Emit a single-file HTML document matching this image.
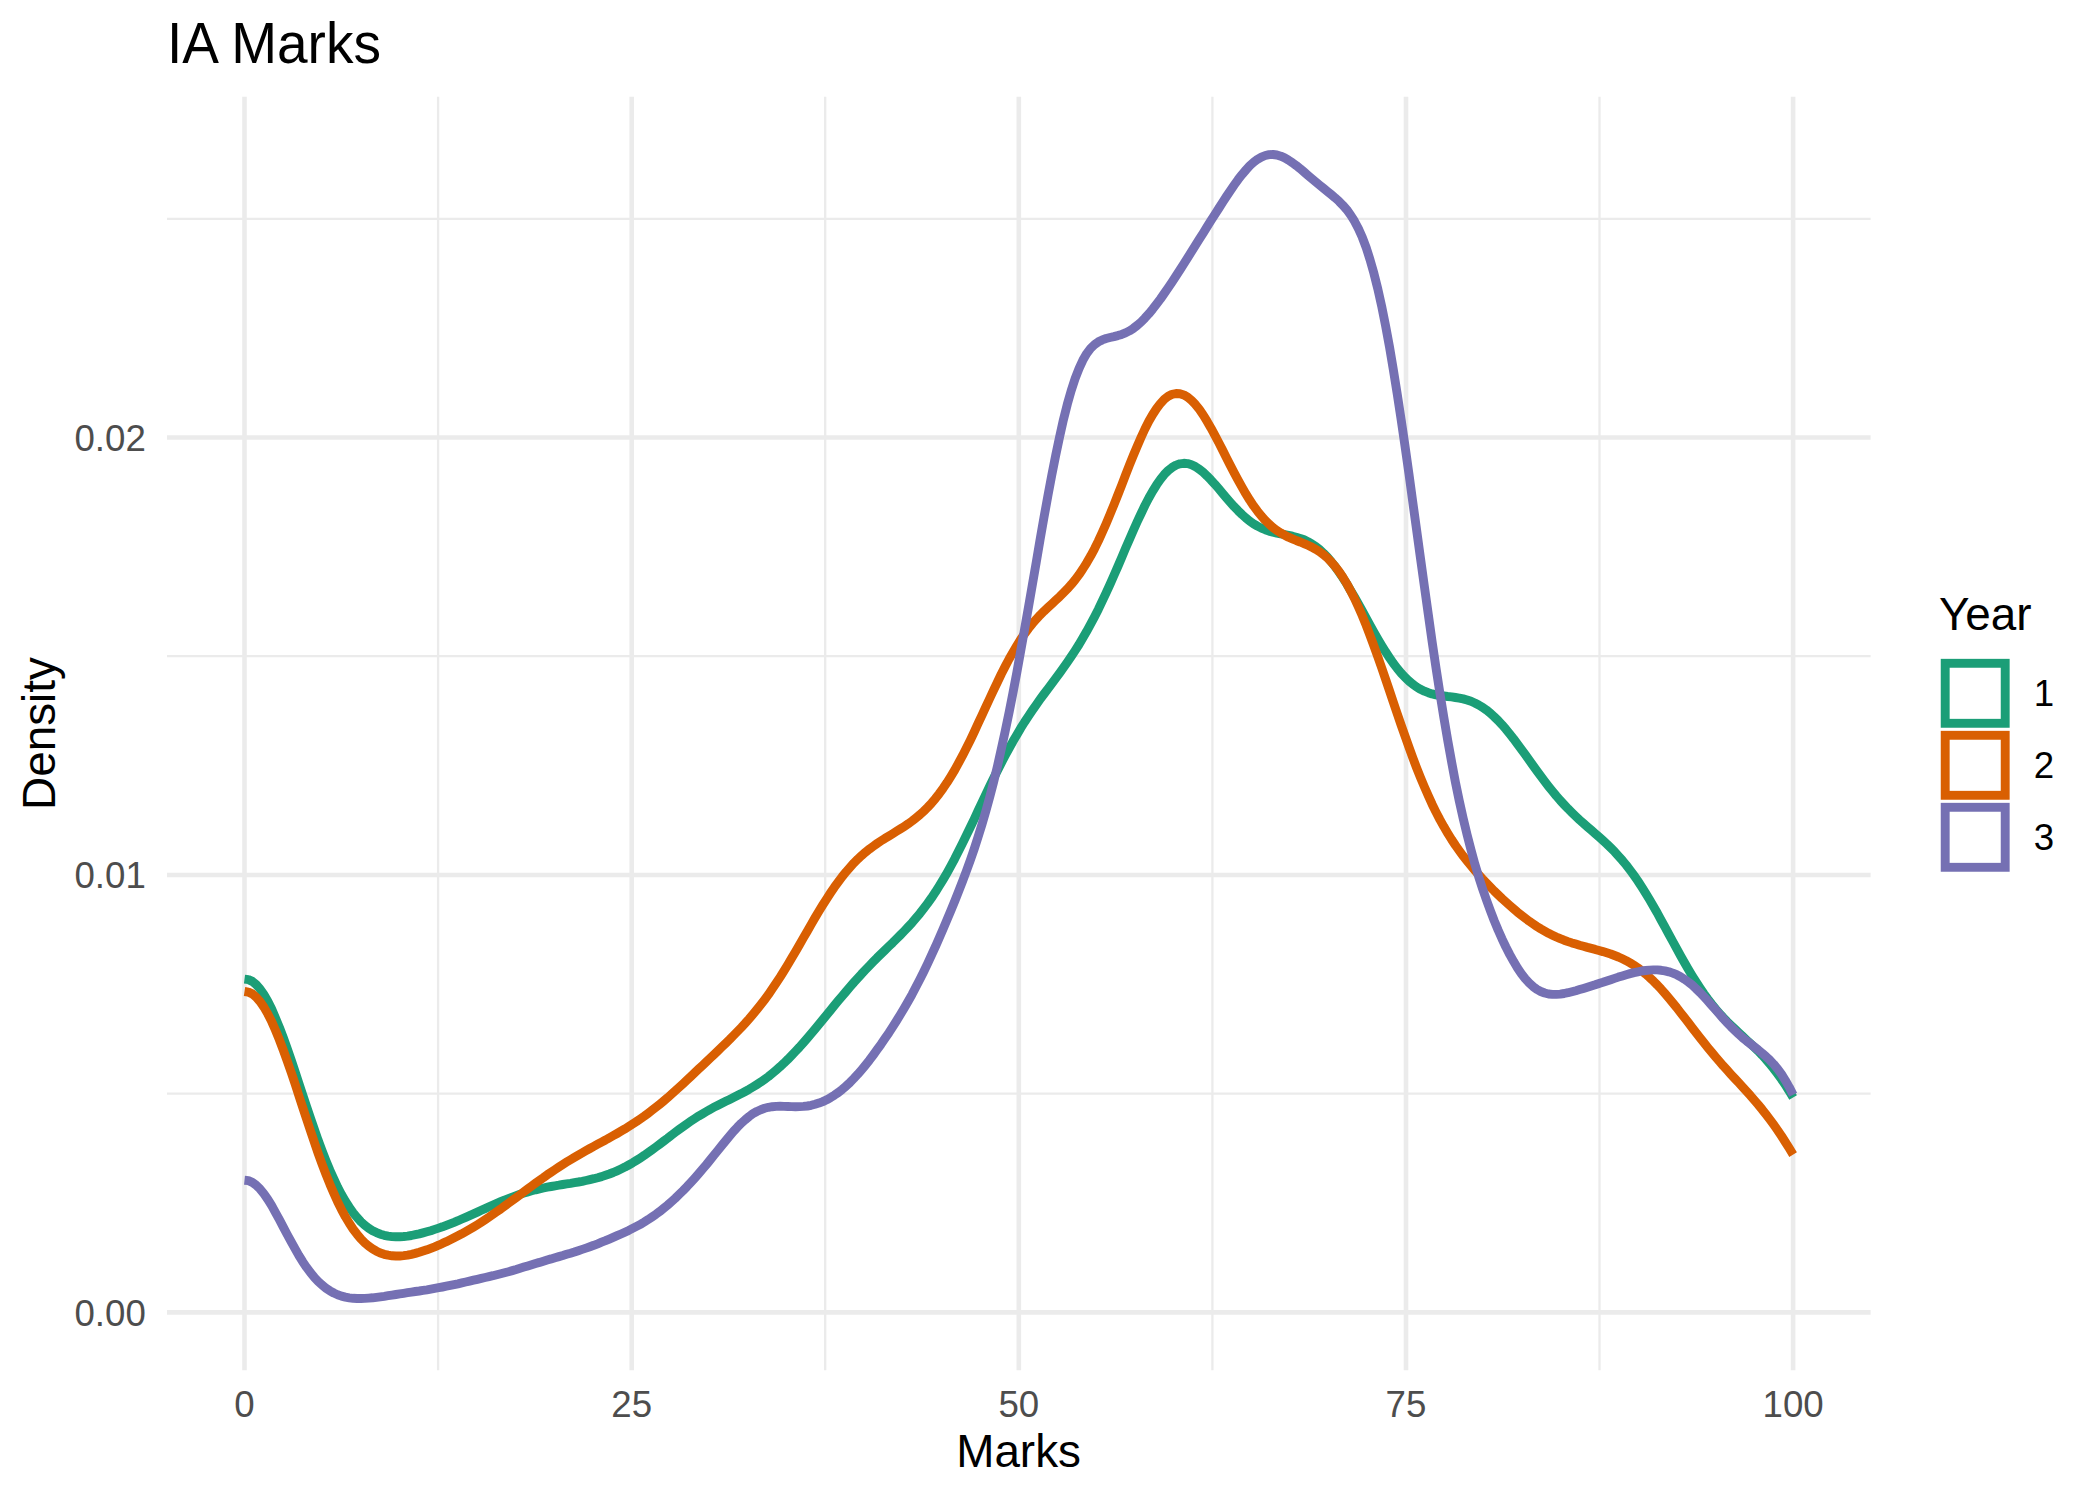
<!DOCTYPE html><html><head><meta charset="utf-8"><title>IA Marks</title>
<style>html,body{margin:0;padding:0;background:#fff}svg{display:block}text{font-family:"Liberation Sans",Arial,sans-serif}</style></head><body>
<svg xmlns="http://www.w3.org/2000/svg" width="2100" height="1499" viewBox="0 0 2100 1499">
<rect width="2100" height="1499" fill="#fff"/>
<g stroke="#EBEBEB" stroke-width="2.3" fill="none">
<line x1="438.1" x2="438.1" y1="96.7" y2="1370.2"/>
<line x1="825.2" x2="825.2" y1="96.7" y2="1370.2"/>
<line x1="1212.4" x2="1212.4" y1="96.7" y2="1370.2"/>
<line x1="1599.5" x2="1599.5" y1="96.7" y2="1370.2"/>
<line x1="167.0" x2="1870.6" y1="1093.7" y2="1093.7"/>
<line x1="167.0" x2="1870.6" y1="656.2" y2="656.2"/>
<line x1="167.0" x2="1870.6" y1="218.8" y2="218.8"/>
</g>
<g stroke="#EBEBEB" stroke-width="4.6" fill="none">
<line x1="244.5" x2="244.5" y1="96.7" y2="1370.2"/>
<line x1="631.7" x2="631.7" y1="96.7" y2="1370.2"/>
<line x1="1018.8" x2="1018.8" y1="96.7" y2="1370.2"/>
<line x1="1406.0" x2="1406.0" y1="96.7" y2="1370.2"/>
<line x1="1793.1" x2="1793.1" y1="96.7" y2="1370.2"/>
<line x1="167.0" x2="1870.6" y1="1312.4" y2="1312.4"/>
<line x1="167.0" x2="1870.6" y1="875.0" y2="875.0"/>
<line x1="167.0" x2="1870.6" y1="437.5" y2="437.5"/>
</g>
<g fill="none" stroke-width="8.9" stroke-linejoin="round" stroke-linecap="butt">
<path stroke="#1B9E77" d="M244.5 979.1L248.4 979.6L252.3 981.4L256.1 984.5L260.0 988.9L263.9 994.6L267.8 1001.3L271.7 1009.1L275.5 1017.9L279.4 1027.4L283.3 1037.7L287.2 1048.5L291.1 1059.7L295.0 1071.3L298.8 1083.1L302.7 1094.9L306.6 1106.6L310.5 1118.2L314.4 1129.5L318.2 1140.4L322.1 1150.8L326.0 1160.8L329.9 1170.2L333.8 1178.9L337.6 1187.1L341.5 1194.5L345.4 1201.3L349.3 1207.3L353.2 1212.8L357.1 1217.5L360.9 1221.7L364.8 1225.2L368.7 1228.2L372.6 1230.7L376.5 1232.6L380.3 1234.2L384.2 1235.3L388.1 1236.1L392.0 1236.6L395.9 1236.8L399.7 1236.8L403.6 1236.5L407.5 1236.1L411.4 1235.5L415.3 1234.7L419.2 1233.9L423.0 1232.9L426.9 1231.8L430.8 1230.7L434.7 1229.4L438.6 1228.1L442.4 1226.8L446.3 1225.3L450.2 1223.8L454.1 1222.3L458.0 1220.7L461.8 1219.0L465.7 1217.3L469.6 1215.6L473.5 1213.9L477.4 1212.1L481.3 1210.3L485.1 1208.6L489.0 1206.8L492.9 1205.1L496.8 1203.4L500.7 1201.7L504.5 1200.1L508.4 1198.6L512.3 1197.1L516.2 1195.7L520.1 1194.3L523.9 1193.1L527.8 1191.9L531.7 1190.8L535.6 1189.8L539.5 1188.9L543.4 1188.0L547.2 1187.2L551.1 1186.5L555.0 1185.8L558.9 1185.2L562.8 1184.5L566.6 1183.9L570.5 1183.3L574.4 1182.6L578.3 1182.0L582.2 1181.3L586.0 1180.5L589.9 1179.6L593.8 1178.7L597.7 1177.7L601.6 1176.6L605.5 1175.3L609.3 1174.0L613.2 1172.5L617.1 1170.8L621.0 1169.0L624.9 1167.1L628.7 1165.0L632.6 1162.8L636.5 1160.4L640.4 1157.9L644.3 1155.3L648.1 1152.6L652.0 1149.8L655.9 1147.0L659.8 1144.1L663.7 1141.1L667.6 1138.2L671.4 1135.2L675.3 1132.3L679.2 1129.4L683.1 1126.6L687.0 1123.8L690.8 1121.2L694.7 1118.6L698.6 1116.1L702.5 1113.8L706.4 1111.5L710.2 1109.3L714.1 1107.2L718.0 1105.2L721.9 1103.2L725.8 1101.3L729.7 1099.4L733.5 1097.5L737.4 1095.5L741.3 1093.6L745.2 1091.5L749.1 1089.3L752.9 1087.0L756.8 1084.6L760.7 1082.1L764.6 1079.3L768.5 1076.5L772.3 1073.4L776.2 1070.1L780.1 1066.7L784.0 1063.1L787.9 1059.3L791.7 1055.4L795.6 1051.3L799.5 1047.1L803.4 1042.7L807.3 1038.3L811.2 1033.7L815.0 1029.1L818.9 1024.4L822.8 1019.6L826.7 1014.9L830.6 1010.1L834.4 1005.4L838.3 1000.7L842.2 996.1L846.1 991.5L850.0 986.9L853.8 982.5L857.7 978.2L861.6 973.9L865.5 969.8L869.4 965.7L873.3 961.7L877.1 957.8L881.0 954.0L884.9 950.2L888.8 946.4L892.7 942.7L896.5 938.9L900.4 935.0L904.3 931.0L908.2 926.9L912.1 922.7L915.9 918.2L919.8 913.6L923.7 908.6L927.6 903.4L931.5 897.9L935.4 892.1L939.2 886.0L943.1 879.6L947.0 872.9L950.9 865.9L954.8 858.6L958.6 851.0L962.5 843.2L966.4 835.3L970.3 827.2L974.2 819.1L978.0 810.8L981.9 802.6L985.8 794.4L989.7 786.3L993.6 778.3L997.5 770.5L1001.3 762.9L1005.2 755.5L1009.1 748.3L1013.0 741.3L1016.9 734.7L1020.7 728.2L1024.6 722.0L1028.5 716.1L1032.4 710.3L1036.3 704.7L1040.1 699.3L1044.0 694.0L1047.9 688.8L1051.8 683.6L1055.7 678.4L1059.6 673.1L1063.4 667.7L1067.3 662.2L1071.2 656.5L1075.1 650.6L1079.0 644.5L1082.8 638.0L1086.7 631.3L1090.6 624.2L1094.5 616.9L1098.4 609.2L1102.2 601.1L1106.1 592.8L1110.0 584.3L1113.9 575.5L1117.8 566.6L1121.7 557.5L1125.5 548.4L1129.4 539.4L1133.3 530.5L1137.2 521.8L1141.1 513.5L1144.9 505.5L1148.8 498.0L1152.7 491.1L1156.6 484.8L1160.5 479.2L1164.3 474.4L1168.2 470.5L1172.1 467.4L1176.0 465.1L1179.9 463.8L1183.8 463.3L1187.6 463.6L1191.5 464.8L1195.4 466.6L1199.3 469.2L1203.2 472.3L1207.0 475.9L1210.9 479.9L1214.8 484.2L1218.7 488.7L1222.6 493.3L1226.4 497.8L1230.3 502.3L1234.2 506.7L1238.1 510.7L1242.0 514.5L1245.9 518.0L1249.7 521.1L1253.6 523.8L1257.5 526.1L1261.4 528.1L1265.3 529.7L1269.1 531.1L1273.0 532.2L1276.9 533.1L1280.8 533.9L1284.7 534.6L1288.5 535.3L1292.4 536.2L1296.3 537.2L1300.2 538.4L1304.1 539.8L1307.9 541.7L1311.8 543.9L1315.7 546.5L1319.6 549.6L1323.5 553.2L1327.4 557.2L1331.2 561.7L1335.1 566.6L1339.0 572.0L1342.9 577.8L1346.8 583.9L1350.6 590.4L1354.5 597.1L1358.4 604.0L1362.3 611.0L1366.2 618.1L1370.0 625.1L1373.9 632.1L1377.8 638.9L1381.7 645.5L1385.6 651.8L1389.5 657.7L1393.3 663.3L1397.2 668.4L1401.1 673.1L1405.0 677.3L1408.9 681.0L1412.7 684.2L1416.6 687.0L1420.5 689.3L1424.4 691.2L1428.3 692.7L1432.1 693.9L1436.0 694.8L1439.9 695.5L1443.8 696.0L1447.7 696.5L1451.6 696.9L1455.4 697.5L1459.3 698.1L1463.2 698.9L1467.1 700.0L1471.0 701.3L1474.8 703.0L1478.7 705.0L1482.6 707.3L1486.5 710.1L1490.4 713.2L1494.2 716.7L1498.1 720.5L1502.0 724.7L1505.9 729.2L1509.8 734.0L1513.7 738.9L1517.5 744.1L1521.4 749.4L1525.3 754.7L1529.2 760.1L1533.1 765.6L1536.9 770.9L1540.8 776.2L1544.7 781.4L1548.6 786.4L1552.5 791.2L1556.3 795.9L1560.2 800.4L1564.1 804.6L1568.0 808.7L1571.9 812.6L1575.8 816.4L1579.6 820.0L1583.5 823.4L1587.4 826.8L1591.3 830.2L1595.2 833.6L1599.0 836.9L1602.9 840.4L1606.8 844.0L1610.7 847.8L1614.6 851.7L1618.4 855.9L1622.3 860.3L1626.2 865.0L1630.1 870.1L1634.0 875.4L1637.9 881.0L1641.7 886.9L1645.6 893.1L1649.5 899.5L1653.4 906.2L1657.3 913.0L1661.1 920.1L1665.0 927.2L1668.9 934.3L1672.8 941.5L1676.7 948.6L1680.5 955.6L1684.4 962.5L1688.3 969.2L1692.2 975.7L1696.1 981.9L1700.0 987.9L1703.8 993.5L1707.7 998.9L1711.6 1004.0L1715.5 1008.8L1719.4 1013.3L1723.2 1017.5L1727.1 1021.6L1731.0 1025.4L1734.9 1029.1L1738.8 1032.7L1742.6 1036.3L1746.5 1039.9L1750.4 1043.5L1754.3 1047.2L1758.2 1051.0L1762.1 1055.1L1765.9 1059.3L1769.8 1063.9L1773.7 1068.7L1777.6 1073.8L1781.5 1079.2L1785.3 1084.9L1789.2 1091.0L1793.1 1097.5"/>
<path stroke="#D95F02" d="M244.5 991.5L248.4 992.1L252.3 993.9L256.1 997.1L260.0 1001.5L263.9 1007.1L267.8 1013.9L271.7 1021.6L275.5 1030.3L279.4 1039.8L283.3 1050.1L287.2 1060.9L291.1 1072.1L295.0 1083.7L298.8 1095.5L302.7 1107.3L306.6 1119.2L310.5 1130.9L314.4 1142.4L318.2 1153.5L322.1 1164.2L326.0 1174.5L329.9 1184.2L333.8 1193.3L337.6 1201.8L341.5 1209.6L345.4 1216.8L349.3 1223.3L353.2 1229.2L357.1 1234.3L360.9 1238.9L364.8 1242.8L368.7 1246.1L372.6 1248.9L376.5 1251.2L380.3 1253.0L384.2 1254.3L388.1 1255.2L392.0 1255.8L395.9 1256.0L399.7 1256.0L403.6 1255.6L407.5 1255.1L411.4 1254.3L415.3 1253.4L419.2 1252.3L423.0 1251.1L426.9 1249.8L430.8 1248.3L434.7 1246.8L438.6 1245.2L442.4 1243.4L446.3 1241.7L450.2 1239.8L454.1 1237.8L458.0 1235.8L461.8 1233.8L465.7 1231.6L469.6 1229.4L473.5 1227.1L477.4 1224.7L481.3 1222.2L485.1 1219.7L489.0 1217.1L492.9 1214.4L496.8 1211.7L500.7 1209.0L504.5 1206.2L508.4 1203.3L512.3 1200.4L516.2 1197.6L520.1 1194.7L523.9 1191.8L527.8 1188.9L531.7 1186.0L535.6 1183.1L539.5 1180.3L543.4 1177.6L547.2 1174.8L551.1 1172.2L555.0 1169.6L558.9 1167.0L562.8 1164.5L566.6 1162.1L570.5 1159.7L574.4 1157.4L578.3 1155.1L582.2 1152.9L586.0 1150.7L589.9 1148.5L593.8 1146.4L597.7 1144.2L601.6 1142.1L605.5 1140.0L609.3 1137.8L613.2 1135.7L617.1 1133.5L621.0 1131.2L624.9 1128.9L628.7 1126.5L632.6 1124.0L636.5 1121.5L640.4 1118.8L644.3 1116.1L648.1 1113.3L652.0 1110.3L655.9 1107.3L659.8 1104.2L663.7 1101.0L667.6 1097.7L671.4 1094.3L675.3 1090.8L679.2 1087.3L683.1 1083.7L687.0 1080.1L690.8 1076.5L694.7 1072.8L698.6 1069.1L702.5 1065.5L706.4 1061.8L710.2 1058.1L714.1 1054.4L718.0 1050.7L721.9 1046.9L725.8 1043.2L729.7 1039.4L733.5 1035.5L737.4 1031.5L741.3 1027.5L745.2 1023.3L749.1 1018.9L752.9 1014.4L756.8 1009.7L760.7 1004.8L764.6 999.7L768.5 994.4L772.3 988.8L776.2 983.0L780.1 977.1L784.0 970.9L787.9 964.5L791.7 958.0L795.6 951.4L799.5 944.7L803.4 937.9L807.3 931.2L811.2 924.4L815.0 917.8L818.9 911.3L822.8 904.9L826.7 898.8L830.6 892.8L834.4 887.2L838.3 881.8L842.2 876.6L846.1 871.8L850.0 867.3L853.8 863.1L857.7 859.2L861.6 855.6L865.5 852.2L869.4 849.1L873.3 846.2L877.1 843.5L881.0 840.9L884.9 838.4L888.8 836.1L892.7 833.7L896.5 831.3L900.4 828.9L904.3 826.4L908.2 823.8L912.1 821.0L915.9 818.0L919.8 814.8L923.7 811.2L927.6 807.4L931.5 803.2L935.4 798.6L939.2 793.7L943.1 788.3L947.0 782.6L950.9 776.4L954.8 769.9L958.6 762.9L962.5 755.7L966.4 748.0L970.3 740.2L974.2 732.0L978.0 723.7L981.9 715.3L985.8 706.9L989.7 698.5L993.6 690.1L997.5 682.0L1001.3 674.0L1005.2 666.4L1009.1 659.0L1013.0 652.1L1016.9 645.5L1020.7 639.4L1024.6 633.8L1028.5 628.5L1032.4 623.7L1036.3 619.2L1040.1 615.1L1044.0 611.2L1047.9 607.5L1051.8 603.9L1055.7 600.3L1059.6 596.7L1063.4 592.9L1067.3 588.9L1071.2 584.6L1075.1 579.9L1079.0 574.7L1082.8 569.0L1086.7 562.8L1090.6 556.1L1094.5 548.8L1098.4 540.9L1102.2 532.5L1106.1 523.7L1110.0 514.4L1113.9 504.8L1117.8 495.0L1121.7 485.1L1125.5 475.1L1129.4 465.2L1133.3 455.5L1137.2 446.2L1141.1 437.3L1144.9 429.0L1148.8 421.3L1152.7 414.5L1156.6 408.5L1160.5 403.4L1164.3 399.3L1168.2 396.3L1172.1 394.3L1176.0 393.5L1179.9 393.7L1183.8 394.9L1187.6 397.1L1191.5 400.4L1195.4 404.4L1199.3 409.3L1203.2 415.0L1207.0 421.2L1210.9 427.9L1214.8 435.1L1218.7 442.5L1222.6 450.1L1226.4 457.8L1230.3 465.4L1234.2 472.9L1238.1 480.2L1242.0 487.2L1245.9 493.9L1249.7 500.1L1253.6 505.9L1257.5 511.2L1261.4 516.1L1265.3 520.4L1269.1 524.2L1273.0 527.6L1276.9 530.5L1280.8 533.0L1284.7 535.2L1288.5 537.2L1292.4 538.9L1296.3 540.5L1300.2 542.0L1304.1 543.6L1307.9 545.3L1311.8 547.1L1315.7 549.3L1319.6 551.7L1323.5 554.6L1327.4 558.0L1331.2 561.9L1335.1 566.4L1339.0 571.5L1342.9 577.3L1346.8 583.7L1350.6 590.8L1354.5 598.5L1358.4 606.9L1362.3 615.8L1366.2 625.4L1370.0 635.4L1373.9 645.9L1377.8 656.7L1381.7 667.9L1385.6 679.2L1389.5 690.7L1393.3 702.2L1397.2 713.6L1401.1 725.0L1405.0 736.1L1408.9 747.0L1412.7 757.6L1416.6 767.8L1420.5 777.6L1424.4 786.9L1428.3 795.8L1432.1 804.2L1436.0 812.1L1439.9 819.6L1443.8 826.6L1447.7 833.2L1451.6 839.5L1455.4 845.3L1459.3 850.8L1463.2 856.1L1467.1 861.0L1471.0 865.8L1474.8 870.3L1478.7 874.7L1482.6 879.0L1486.5 883.1L1490.4 887.1L1494.2 891.0L1498.1 894.8L1502.0 898.5L1505.9 902.0L1509.8 905.5L1513.7 908.9L1517.5 912.2L1521.4 915.3L1525.3 918.3L1529.2 921.2L1533.1 923.9L1536.9 926.5L1540.8 928.9L1544.7 931.1L1548.6 933.3L1552.5 935.2L1556.3 937.0L1560.2 938.7L1564.1 940.2L1568.0 941.6L1571.9 942.9L1575.8 944.1L1579.6 945.3L1583.5 946.3L1587.4 947.4L1591.3 948.4L1595.2 949.4L1599.0 950.5L1602.9 951.6L1606.8 952.8L1610.7 954.0L1614.6 955.5L1618.4 957.0L1622.3 958.8L1626.2 960.7L1630.1 962.9L1634.0 965.3L1637.9 967.9L1641.7 970.8L1645.6 974.0L1649.5 977.4L1653.4 981.1L1657.3 985.0L1661.1 989.1L1665.0 993.5L1668.9 998.1L1672.8 1002.8L1676.7 1007.6L1680.5 1012.6L1684.4 1017.6L1688.3 1022.6L1692.2 1027.7L1696.1 1032.7L1700.0 1037.7L1703.8 1042.6L1707.7 1047.5L1711.6 1052.2L1715.5 1056.8L1719.4 1061.3L1723.2 1065.8L1727.1 1070.1L1731.0 1074.4L1734.9 1078.6L1738.8 1082.8L1742.6 1087.0L1746.5 1091.3L1750.4 1095.6L1754.3 1100.1L1758.2 1104.6L1762.1 1109.4L1765.9 1114.3L1769.8 1119.4L1773.7 1124.7L1777.6 1130.2L1781.5 1136.0L1785.3 1142.0L1789.2 1148.2L1793.1 1154.6"/>
<path stroke="#7570B3" d="M244.5 1180.2L248.4 1180.6L252.3 1182.3L256.1 1185.1L260.0 1188.9L263.9 1193.8L267.8 1199.4L271.7 1205.7L275.5 1212.6L279.4 1219.7L283.3 1227.1L287.2 1234.5L291.1 1241.7L295.0 1248.7L298.8 1255.4L302.7 1261.7L306.6 1267.4L310.5 1272.7L314.4 1277.4L318.2 1281.5L322.1 1285.1L326.0 1288.2L329.9 1290.8L333.8 1293.0L337.6 1294.7L341.5 1296.1L345.4 1297.1L349.3 1297.8L353.2 1298.3L357.1 1298.5L360.9 1298.5L364.8 1298.4L368.7 1298.1L372.6 1297.8L376.5 1297.3L380.3 1296.8L384.2 1296.3L388.1 1295.7L392.0 1295.1L395.9 1294.5L399.7 1293.9L403.6 1293.3L407.5 1292.7L411.4 1292.1L415.3 1291.5L419.2 1291.0L423.0 1290.4L426.9 1289.8L430.8 1289.1L434.7 1288.4L438.6 1287.7L442.4 1287.0L446.3 1286.2L450.2 1285.4L454.1 1284.6L458.0 1283.8L461.8 1282.9L465.7 1282.0L469.6 1281.1L473.5 1280.2L477.4 1279.3L481.3 1278.4L485.1 1277.5L489.0 1276.6L492.9 1275.7L496.8 1274.7L500.7 1273.7L504.5 1272.7L508.4 1271.7L512.3 1270.6L516.2 1269.5L520.1 1268.3L523.9 1267.1L527.8 1265.9L531.7 1264.7L535.6 1263.5L539.5 1262.4L543.4 1261.2L547.2 1260.0L551.1 1258.9L555.0 1257.7L558.9 1256.6L562.8 1255.5L566.6 1254.3L570.5 1253.2L574.4 1252.0L578.3 1250.7L582.2 1249.4L586.0 1248.1L589.9 1246.7L593.8 1245.3L597.7 1243.8L601.6 1242.2L605.5 1240.7L609.3 1239.1L613.2 1237.4L617.1 1235.7L621.0 1234.0L624.9 1232.2L628.7 1230.4L632.6 1228.4L636.5 1226.4L640.4 1224.3L644.3 1222.0L648.1 1219.6L652.0 1217.0L655.9 1214.3L659.8 1211.4L663.7 1208.3L667.6 1205.1L671.4 1201.7L675.3 1198.2L679.2 1194.4L683.1 1190.6L687.0 1186.6L690.8 1182.5L694.7 1178.2L698.6 1173.8L702.5 1169.2L706.4 1164.6L710.2 1159.9L714.1 1155.0L718.0 1150.2L721.9 1145.4L725.8 1140.6L729.7 1135.9L733.5 1131.4L737.4 1127.2L741.3 1123.2L745.2 1119.7L749.1 1116.5L752.9 1113.7L756.8 1111.5L760.7 1109.7L764.6 1108.3L768.5 1107.3L772.3 1106.7L776.2 1106.4L780.1 1106.3L784.0 1106.4L787.9 1106.5L791.7 1106.6L795.6 1106.7L799.5 1106.6L803.4 1106.4L807.3 1106.0L811.2 1105.3L815.0 1104.3L818.9 1103.1L822.8 1101.6L826.7 1099.8L830.6 1097.6L834.4 1095.2L838.3 1092.5L842.2 1089.4L846.1 1086.1L850.0 1082.4L853.8 1078.5L857.7 1074.3L861.6 1069.8L865.5 1065.1L869.4 1060.2L873.3 1055.0L877.1 1049.7L881.0 1044.3L884.9 1038.6L888.8 1032.9L892.7 1026.9L896.5 1020.8L900.4 1014.5L904.3 1008.0L908.2 1001.3L912.1 994.3L915.9 987.0L919.8 979.5L923.7 971.7L927.6 963.6L931.5 955.2L935.4 946.7L939.2 937.9L943.1 928.9L947.0 919.8L950.9 910.5L954.8 901.0L958.6 891.3L962.5 881.3L966.4 871.0L970.3 860.3L974.2 849.0L978.0 837.2L981.9 824.6L985.8 811.3L989.7 797.1L993.6 782.1L997.5 766.0L1001.3 749.1L1005.2 731.1L1009.1 712.3L1013.0 692.6L1016.9 672.1L1020.7 650.9L1024.6 629.1L1028.5 606.9L1032.4 584.5L1036.3 561.9L1040.1 539.5L1044.0 517.3L1047.9 495.8L1051.8 475.0L1055.7 455.3L1059.6 436.8L1063.4 419.8L1067.3 404.3L1071.2 390.6L1075.1 378.7L1079.0 368.6L1082.8 360.3L1086.7 353.6L1090.6 348.4L1094.5 344.6L1098.4 341.8L1102.2 339.9L1106.1 338.5L1110.0 337.5L1113.9 336.6L1117.8 335.6L1121.7 334.4L1125.5 332.9L1129.4 330.9L1133.3 328.4L1137.2 325.4L1141.1 322.0L1144.9 318.1L1148.8 313.8L1152.7 309.1L1156.6 304.1L1160.5 298.9L1164.3 293.4L1168.2 287.7L1172.1 281.9L1176.0 276.0L1179.9 270.0L1183.8 263.9L1187.6 257.8L1191.5 251.6L1195.4 245.4L1199.3 239.2L1203.2 233.1L1207.0 226.9L1210.9 220.7L1214.8 214.6L1218.7 208.5L1222.6 202.4L1226.4 196.5L1230.3 190.7L1234.2 185.0L1238.1 179.6L1242.0 174.6L1245.9 170.0L1249.7 165.8L1253.6 162.3L1257.5 159.3L1261.4 157.1L1265.3 155.5L1269.1 154.6L1273.0 154.5L1276.9 155.0L1280.8 156.2L1284.7 157.9L1288.5 160.1L1292.4 162.7L1296.3 165.6L1300.2 168.7L1304.1 172.0L1307.9 175.3L1311.8 178.6L1315.7 181.9L1319.6 185.1L1323.5 188.3L1327.4 191.4L1331.2 194.5L1335.1 197.8L1339.0 201.3L1342.9 205.3L1346.8 209.7L1350.6 215.0L1354.5 221.2L1358.4 228.6L1362.3 237.3L1366.2 247.6L1370.0 259.6L1373.9 273.3L1377.8 288.9L1381.7 306.4L1385.6 325.8L1389.5 346.9L1393.3 369.6L1397.2 393.9L1401.1 419.4L1405.0 446.0L1408.9 473.5L1412.7 501.5L1416.6 529.9L1420.5 558.3L1424.4 586.5L1428.3 614.3L1432.1 641.5L1436.0 667.8L1439.9 693.1L1443.8 717.3L1447.7 740.3L1451.6 761.9L1455.4 782.1L1459.3 801.0L1463.2 818.5L1467.1 834.8L1471.0 849.8L1474.8 863.8L1478.7 876.8L1482.6 888.8L1486.5 900.1L1490.4 910.7L1494.2 920.6L1498.1 930.0L1502.0 938.8L1505.9 947.0L1509.8 954.6L1513.7 961.6L1517.5 968.0L1521.4 973.8L1525.3 978.8L1529.2 983.0L1533.1 986.6L1536.9 989.4L1540.8 991.5L1544.7 993.0L1548.6 994.0L1552.5 994.4L1556.3 994.4L1560.2 994.1L1564.1 993.5L1568.0 992.7L1571.9 991.7L1575.8 990.7L1579.6 989.6L1583.5 988.4L1587.4 987.2L1591.3 986.0L1595.2 984.8L1599.0 983.5L1602.9 982.3L1606.8 981.0L1610.7 979.7L1614.6 978.4L1618.4 977.1L1622.3 975.9L1626.2 974.7L1630.1 973.6L1634.0 972.6L1637.9 971.8L1641.7 971.0L1645.6 970.5L1649.5 970.1L1653.4 969.9L1657.3 969.9L1661.1 970.3L1665.0 970.9L1668.9 971.8L1672.8 973.1L1676.7 974.7L1680.5 976.7L1684.4 979.2L1688.3 982.0L1692.2 985.1L1696.1 988.7L1700.0 992.5L1703.8 996.6L1707.7 1000.8L1711.6 1005.2L1715.5 1009.7L1719.4 1014.1L1723.2 1018.5L1727.1 1022.7L1731.0 1026.8L1734.9 1030.6L1738.8 1034.3L1742.6 1037.7L1746.5 1040.9L1750.4 1043.9L1754.3 1046.9L1758.2 1049.9L1762.1 1053.1L1765.9 1056.4L1769.8 1060.1L1773.7 1064.2L1777.6 1068.9L1781.5 1074.2L1785.3 1080.3L1789.2 1087.1L1793.1 1094.8"/>
</g>
<text transform="translate(167,62.9) scale(1,1.03)" font-size="55" fill="#000">IA Marks</text>
<g font-size="36.67" fill="#4D4D4D" text-anchor="end">
<text x="145.8" y="1325.5">0.00</text>
<text x="145.8" y="888.1">0.01</text>
<text x="145.8" y="450.6">0.02</text>
</g>
<g font-size="36.67" fill="#4D4D4D" text-anchor="middle">
<text x="244.5" y="1416.5">0</text>
<text x="631.7" y="1416.5">25</text>
<text x="1018.8" y="1416.5">50</text>
<text x="1406.0" y="1416.5">75</text>
<text x="1793.1" y="1416.5">100</text>
</g>
<text x="1018.6" y="1467" font-size="45.83" fill="#000" text-anchor="middle">Marks</text>
<text transform="translate(54.7,733.5) rotate(-90)" font-size="45.83" fill="#000" text-anchor="middle">Density</text>
<text x="1939" y="630" font-size="45.83" fill="#000">Year</text>
<rect x="1945.2" y="663.3" width="60" height="60" fill="#fff" stroke="#1B9E77" stroke-width="8.9"/>
<text x="2033.7" y="706.4" font-size="36.67" fill="#000">1</text>
<rect x="1945.2" y="735.3" width="60" height="60" fill="#fff" stroke="#D95F02" stroke-width="8.9"/>
<text x="2033.7" y="778.4" font-size="36.67" fill="#000">2</text>
<rect x="1945.2" y="807.3" width="60" height="60" fill="#fff" stroke="#7570B3" stroke-width="8.9"/>
<text x="2033.7" y="850.4" font-size="36.67" fill="#000">3</text>
</svg></body></html>
